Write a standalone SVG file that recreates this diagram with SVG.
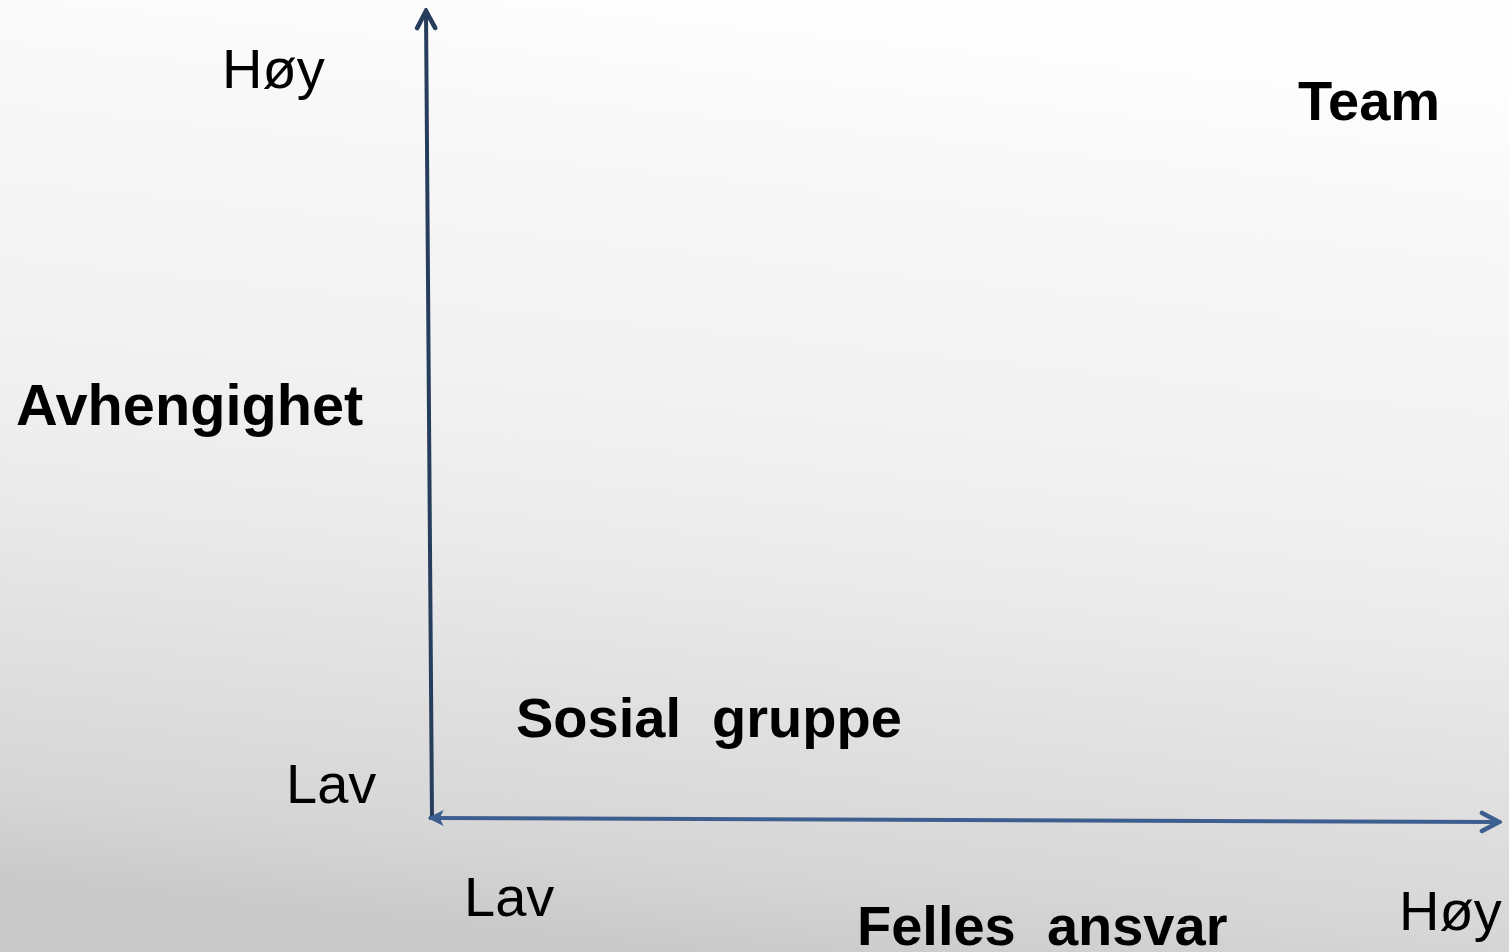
<svg xmlns="http://www.w3.org/2000/svg" width="1509" height="952" viewBox="0 0 1509 952">
<defs>
<linearGradient id="bg" gradientUnits="userSpaceOnUse" x1="760" y1="0" x2="660" y2="952">
<stop offset="0" stop-color="#fefefe"/>
<stop offset="0.15" stop-color="#f8f8f8"/>
<stop offset="0.45" stop-color="#f1f1f1"/>
<stop offset="0.6" stop-color="#eaeaea"/>
<stop offset="0.75" stop-color="#e0e0e0"/>
<stop offset="0.9" stop-color="#d6d6d6"/>
<stop offset="1" stop-color="#c9c9c9"/>
</linearGradient>
<marker id="openV" viewBox="0 0 12 12" refX="10.5" refY="6" markerWidth="6" markerHeight="6" markerUnits="strokeWidth" orient="auto">
<path d="M2,1.5 L10.5,6 L2,10.5" fill="none" stroke="#263d5c" stroke-width="2.3" stroke-linecap="round"/>
</marker>
<marker id="openH" viewBox="0 0 12 12" refX="10.5" refY="6" markerWidth="6" markerHeight="6" markerUnits="strokeWidth" orient="auto">
<path d="M2,1.5 L10.5,6 L2,10.5" fill="none" stroke="#3d5f8f" stroke-width="2.3" stroke-linecap="round"/>
</marker>
<marker id="tri" viewBox="0 0 12 12" refX="1" refY="6" markerWidth="4" markerHeight="4" markerUnits="strokeWidth" orient="auto">
<path d="M12,0 L0,6 L12,12 L9,6 Z" fill="#3d5f8f"/>
</marker>
</defs>
<style>
text{font-family:"Liberation Sans",Arial,sans-serif;font-size:56px;fill:#000}
.b{font-weight:bold}
.ax{fill:none;stroke-width:4}
</style>
<rect x="0" y="0" width="1509" height="952" fill="url(#bg)"/>
<g id="connectors">
<line class="ax" x1="432" y1="818" x2="426" y2="11" stroke="#263d5c" marker-end="url(#openV)"/>
<line class="ax" x1="429" y1="818" x2="1499" y2="822" stroke="#3d5f8f" marker-start="url(#tri)" marker-end="url(#openH)"/>
</g>
<g id="y-high"><text x="222" y="88">Høy</text></g>
<g id="y-title"><text class="b" x="16" y="425" style="font-size:57.7px">Avhengighet</text></g>
<g id="y-low"><text x="286" y="803">Lav</text></g>
<g id="x-low"><text x="464" y="916">Lav</text></g>
<g id="x-title"><text class="b" x="857" y="945" xml:space="preserve">Felles  ansvar</text></g>
<g id="x-high"><text x="1399" y="930">Høy</text></g>
<g id="team"><text class="b" x="1298" y="120">Team</text></g>
<g id="sosial"><text class="b" x="516" y="737" xml:space="preserve">Sosial  gruppe</text></g>
</svg>
